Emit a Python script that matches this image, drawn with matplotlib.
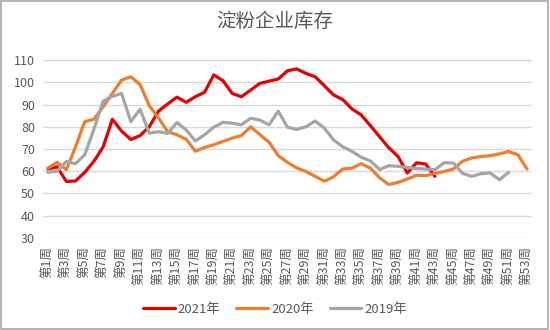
import matplotlib
matplotlib.use('Agg')
import matplotlib.pyplot as plt
from matplotlib.patches import Rectangle

plt.rcParams['font.family'] = ['Noto Sans CJK SC', 'DejaVu Sans']

title = '淀粉企业库存'
weeks = ['第%d周' % i for i in range(1, 54)]

# 2021年
stock_2021 = [61, 62, 55.4, 55.6, 59.5, 64.5, 71, 83.4, 78, 74.3,
              76, 80, 87, 90.3, 93.3, 91, 93.5, 95.5, 103.3, 100.7,
              95, 93.5, 96.5, 99.5, 100.5, 101.5, 105.2, 106, 104, 102.5,
              98.5, 94.3, 92.2, 88, 85.3, 80.5, 75.5, 70.5, 66.6, 59.2,
              63.8, 63.2, 57.7]
# 2020年
stock_2020 = [61.4, 64, 60.7, 71, 82.3, 83.4, 89, 95, 101, 102.5,
              99, 89.5, 84, 77.8, 76.4, 74.4, 69, 70.7, 71.9, 73.4,
              74.9, 76, 80, 76.5, 73, 67, 64, 61.5, 59.9, 57.7,
              55.5, 57.5, 61, 61.4, 63.4, 61.4, 57, 54, 55, 56.5,
              58.2, 58, 59, 59.9, 61, 64.5, 66, 66.6, 67, 67.8,
              68.9, 67.4, 61]
# 2019年
stock_2019 = [59.5, 60, 64.4, 63.4, 67.4, 79, 91.5, 93.7, 95, 82.3,
              87.9, 77.1, 77.8, 77, 81.9, 78.6, 73.6, 76.4, 79.8, 82,
              81.6, 80.9, 83.8, 83, 80.9, 87, 79.8, 78.8, 80, 82.6,
              79.4, 74.1, 71, 68.9, 66.3, 64.6, 60.8, 62.5, 62.2, 61.7,
              61.2, 61, 60.7, 63.8, 63.7, 59, 57.7, 58.9, 59.2, 56.2,
              59.5]

series = [('2021年', stock_2021, '#E60000'),
          ('2020年', stock_2020, '#ED7D31'),
          ('2019年', stock_2019, '#A5A5A5')]

fig = plt.figure(figsize=(5.5, 3.3), dpi=100)
ax = fig.add_axes([0.0787, 0.279, 0.888, 0.539])

# same order as the spreadsheet: later series drawn on top
for name, vals, color in series:
    ax.plot(range(1, len(vals) + 1), vals, color=color, lw=2.3,
            label=name, solid_joinstyle='round', solid_capstyle='round')

ax.set_xlim(0.5, 53.5)
ax.set_ylim(30, 110)
ax.set_yticks(range(30, 111, 10))
ax.yaxis.grid(True, color='#D9D9D9', lw=1.0)
ax.set_axisbelow(True)
for s in ax.spines.values():
    s.set_visible(False)
ax.tick_params(axis='y', length=0, labelsize=9, labelcolor='#595959', pad=6)
ax.tick_params(axis='x', length=0, labelsize=9, labelcolor='#595959', pad=6)
ax.set_xticks(range(1, 54, 2))
ax.set_xticklabels(weeks[::2], rotation=90)

fig.text(0.5, 0.935, title, ha='center', va='center', fontsize=14, color='#595959')

leg = fig.legend(loc='center', bbox_to_anchor=(0.5, 0.062),
                 ncol=3, frameon=False, fontsize=9.5, handlelength=2.4,
                 handletextpad=0.25, columnspacing=1.2)
for t in leg.get_texts():
    t.set_color('#595959')

fig.patches.append(Rectangle((0.002, 0.003), 0.995, 0.993, transform=fig.transFigure,
                             fill=False, edgecolor='#A6A6A6', lw=1.2))

fig.savefig('out.png', dpi=100, facecolor='white')
